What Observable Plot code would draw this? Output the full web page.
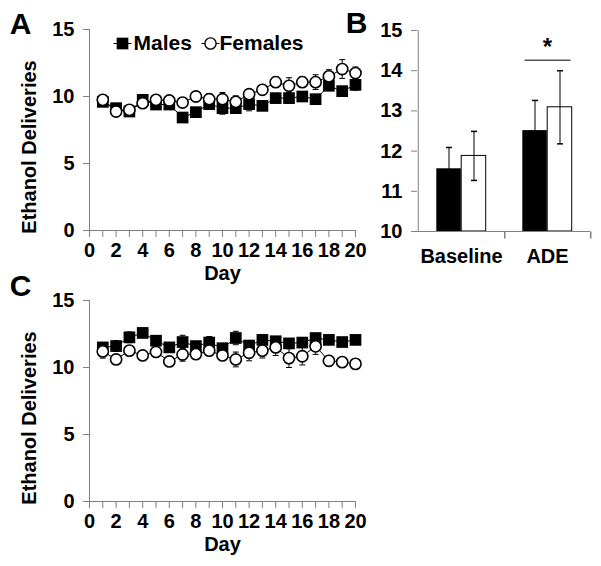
<!DOCTYPE html>
<html><head><meta charset="utf-8">
<script src="https://cdn.jsdelivr.net/npm/d3@7"></script>
<script src="https://cdn.jsdelivr.net/npm/@observablehq/plot@0.6"></script>
<style>
body{margin:0;background:#fff;}
#wrap{position:relative;width:601px;height:566px;overflow:hidden;background:#fff;font-family:"Liberation Sans",Arial,sans-serif;}
#wrap > div{position:absolute;}
#pa{left:0;top:0;} #pb{left:330px;top:0;} #pc{left:0;top:271px;}
</style></head><body>
<div id="wrap"><div id="pc"></div><div id="pa"></div><div id="pb"></div></div>
<script>
// ---------- data ----------
const days = [1,2,3,4,5,6,7,8,9,10,11,12,13,14,15,16,17,18,19,20];
const dayTicks = [0,1,2,3,4,5,6,7,8,9,10,11,12,13,14,15,16,17,18,19,20];
const sexes = ["Males","Females"];

const aMale      = [9.6,9.13,8.88,9.75,9.4,9.4,8.43,8.83,9.43,9.13,9.13,9.43,9.3,9.88,9.88,10.0,9.8,10.8,10.4,10.87];
const aMaleErr   = [0.3,0.3,0.25,0.35,0.3,0.3,0.3,0.3,0.35,0.45,0.35,0.5,0.3,0.3,0.4,0.3,0.3,0.35,0.3,0.4];
const aFemale    = [9.75,8.88,9.0,9.5,9.75,9.7,9.55,10.0,9.8,9.8,9.6,10.17,10.5,11.07,10.8,11.07,11.07,11.5,12.05,11.75];
const aFemaleErr = [0.3,0.25,0.25,0.3,0.3,0.3,0.35,0.35,0.4,0.5,0.45,0.35,0.3,0.4,0.6,0.4,0.55,0.5,0.7,0.45];

const cMale      = [11.5,11.6,12.25,12.58,12.0,11.5,11.9,11.6,11.86,11.44,12.2,11.64,12.06,11.96,11.8,11.86,12.2,12.06,11.9,12.06];
const cMaleErr   = [0.3,0.4,0.4,0.25,0.3,0.3,0.5,0.3,0.45,0.3,0.5,0.3,0.3,0.3,0.3,0.3,0.3,0.3,0.3,0.3];
const cFemale    = [11.2,10.6,11.26,10.9,11.16,10.45,10.97,11.0,11.26,10.9,10.6,11.1,11.26,11.5,10.7,10.84,11.58,10.5,10.4,10.27];
const cFemaleErr = [0.5,0.3,0.3,0.3,0.4,0.3,0.5,0.3,0.35,0.3,0.55,0.6,0.55,0.6,0.7,0.65,0.6,0.4,0.3,0.25];

const bGroups    = ["Baseline","ADE"];
const bMale      = [11.56,12.51];
const bMaleErr   = [0.53,0.75];
const bFemale    = [11.88,13.09];
const bFemaleErr = [0.61,0.91];
const bSigGroup  = "ADE";
const bSigLevel  = 14.26;
const bSigLabel  = "*";

const yTicksLine = [0,5,10,15];
const yTicksBar  = [10,11,12,13,14,15];
const yTitle = "Ethanol Deliveries";
const xTitle = "Day";

// ---------- helpers ----------
const FONT = '"Liberation Sans", Arial, sans-serif';
const AX = "#808080";
const capSym   = {draw(ctx){ ctx.moveTo(-3,0); ctx.lineTo(3,0); }};
const tickDown = {draw(ctx){ ctx.moveTo(0,0); ctx.lineTo(0,7); }};
const legLine  = {draw(ctx){ ctx.moveTo(-9,0); ctx.lineTo(9,0); }};
const sigSym   = {draw(ctx){ ctx.moveTo(-23,0); ctx.lineTo(23,0); }};

function rows(vals, errs, sex){ return days.map((d,i)=>({day:d, v:vals[i], e:errs[i], sex})); }

function lineChart(male, maleErr, female, femaleErr, letter, height, legend, titleDy, letterDy){
  const M = rows(male, maleErr, "Males"), F = rows(female, femaleErr, "Females");
  const all = M.concat(F);
  const marks = [
    Plot.ruleY([0], {stroke: AX}),
    Plot.ruleX([0], {stroke: AX}),
    Plot.axisY({ticks: yTicksLine, tickSize: 6, tickPadding: 9, label: null, stroke: AX, fill: "black", fontSize: 20, fontWeight: "bold"}),
    Plot.axisX({ticks: dayTicks, tickSize: 7, tickPadding: 5, label: null, stroke: AX, fill: "black", fontSize: 20, fontWeight: "bold",
      tickFormat: d => d % 2 ? "" : String(d)}),
    Plot.ruleX(all, {x: "day", y1: d => d.v - d.e, y2: d => d.v + d.e, stroke: "black", strokeWidth: 1}),
    Plot.dot(all, {x: "day", y: d => d.v + d.e, symbol: capSym, stroke: "black", fill: "none", strokeWidth: 1}),
    Plot.dot(all, {x: "day", y: d => d.v - d.e, symbol: capSym, stroke: "black", fill: "none", strokeWidth: 1}),
    Plot.line(all, {x: "day", y: "v", z: "sex", stroke: "black", strokeWidth: 1}),
    Plot.dot(M, {x: "day", y: "v", symbol: "square", r: 6.6, fill: "black", stroke: "none"}),
    Plot.dot(F, {x: "day", y: "v", symbol: "circle", r: 5.6, fill: "white", stroke: "black", strokeWidth: 1.6}),
    Plot.text([yTitle], {frameAnchor: "left", dx: -60, dy: titleDy, rotate: -90, fontSize: 20, fontWeight: "bold", fill: "black", textAnchor: "middle", lineAnchor: "middle"}),
    Plot.text([xTitle], {frameAnchor: "bottom", dy: 43, fontSize: 20, fontWeight: "bold", fill: "black", lineAnchor: "middle"}),
    Plot.text([letter], {frameAnchor: "top-left", dx: -69, dy: letterDy, fontSize: 30, fontWeight: "bold", fill: "black", textAnchor: "middle", lineAnchor: "middle"})
  ];
  if (legend) {
    marks.push(
      Plot.dot([sexes[0]], {frameAnchor: "top-left", dx: 33, dy: 14, symbol: legLine, stroke: "black", fill: "none", strokeWidth: 1}),
      Plot.dot([sexes[0]], {frameAnchor: "top-left", dx: 33, dy: 14, symbol: "square", r: 6.6, fill: "black", stroke: "none"}),
      Plot.text([sexes[0]], {frameAnchor: "top-left", dx: 44, dy: 14, fontSize: 21, fontWeight: "bold", fill: "black", textAnchor: "start", lineAnchor: "middle"}),
      Plot.dot([sexes[1]], {frameAnchor: "top-left", dx: 121, dy: 14, symbol: legLine, stroke: "black", fill: "none", strokeWidth: 1}),
      Plot.dot([sexes[1]], {frameAnchor: "top-left", dx: 121, dy: 14, symbol: "circle", r: 5.6, fill: "white", stroke: "black", strokeWidth: 1.4}),
      Plot.text([sexes[1]], {frameAnchor: "top-left", dx: 130, dy: 14, fontSize: 21, fontWeight: "bold", fill: "black", textAnchor: "start", lineAnchor: "middle"})
    );
  }
  return Plot.plot({
    width: 370, height,
    marginLeft: 89, marginRight: 15, marginTop: 29, marginBottom: height - 230,
    x: {domain: [0, 20]},
    y: {domain: [0, 15]},
    style: {background: "transparent", overflow: "visible", fontFamily: FONT, color: "black"},
    marks
  });
}

function barChart(){
  const M = bGroups.map((g,i)=>({group:g, v:bMale[i], e:bMaleErr[i]}));
  const F = bGroups.map((g,i)=>({group:g, v:bFemale[i], e:bFemaleErr[i]}));
  const sig = [{group: bSigGroup, y: bSigLevel, label: bSigLabel}];
  const half = 86.5/2;
  return Plot.plot({
    width: 271, height: 280,
    marginLeft: 87, marginRight: 11, marginTop: 30, marginBottom: 49,
    x: {domain: bGroups, padding: 0},
    y: {domain: [10, 15]},
    style: {background: "transparent", overflow: "visible", fontFamily: FONT, color: "black"},
    marks: [
      Plot.axisY({ticks: yTicksBar, tickFormat: "d", tickSize: 6, tickPadding: 9, label: null, stroke: AX, fill: "black", fontSize: 20, fontWeight: "bold"}),
      Plot.axisX({tickSize: 0, tickPadding: 17, label: null, fill: "black", fontSize: 20, fontWeight: "bold"}),
      Plot.barY(M, {x: "group", y1: 10, y2: "v", fill: "black", insetLeft: 18.3, insetRight: 43.2}),
      Plot.barY(F, {x: "group", y1: 10, y2: "v", fill: "white", stroke: "black", strokeWidth: 1, insetLeft: 43.2, insetRight: 18.3}),
      Plot.ruleX(M, {x: "group", dx: -12.5, y1: d => d.v - d.e, y2: d => d.v + d.e, stroke: "black", strokeWidth: 1}),
      Plot.ruleX(F, {x: "group", dx: 12.5, y1: d => d.v - d.e, y2: d => d.v + d.e, stroke: "black", strokeWidth: 1}),
      Plot.dot(M, {x: "group", dx: -12.5, y: d => d.v + d.e, symbol: capSym, stroke: "black", fill: "none"}),
      Plot.dot(F, {x: "group", dx: 12.5, y: d => d.v + d.e, symbol: capSym, stroke: "black", fill: "none"}),
      Plot.dot(F, {x: "group", dx: 12.5, y: d => d.v - d.e, symbol: capSym, stroke: "black", fill: "none"}),
      Plot.ruleY([10], {stroke: AX}),
      Plot.ruleX([bGroups[0]], {x: d => d, dx: -half, y1: 10, y2: 15, stroke: AX}),
      Plot.dot(bGroups, {x: d => d, y: 10, dx: half, symbol: tickDown, stroke: AX, fill: "none"}),
      Plot.dot(sig, {x: "group", y: "y", symbol: sigSym, stroke: "#555", strokeWidth: 1.5, fill: "none"}),
      Plot.text(sig, {x: "group", y: "y", text: "label", dy: -13, fontSize: 24, fontWeight: "bold", fill: "black", lineAnchor: "middle"}),
      Plot.text(["B"], {frameAnchor: "top-left", dx: -61, dy: -7, fontSize: 30, fontWeight: "bold", fill: "black", textAnchor: "middle", lineAnchor: "middle"})
    ]
  });
}

document.getElementById("pa").append(lineChart(aMale, aMaleErr, aFemale, aFemaleErr, "A", 280, true, 17, -5));
document.getElementById("pb").append(barChart());
document.getElementById("pc").append(lineChart(cMale, cMaleErr, cFemale, cFemaleErr, "C", 295, false, 17, -14));
</script>
</body></html>
